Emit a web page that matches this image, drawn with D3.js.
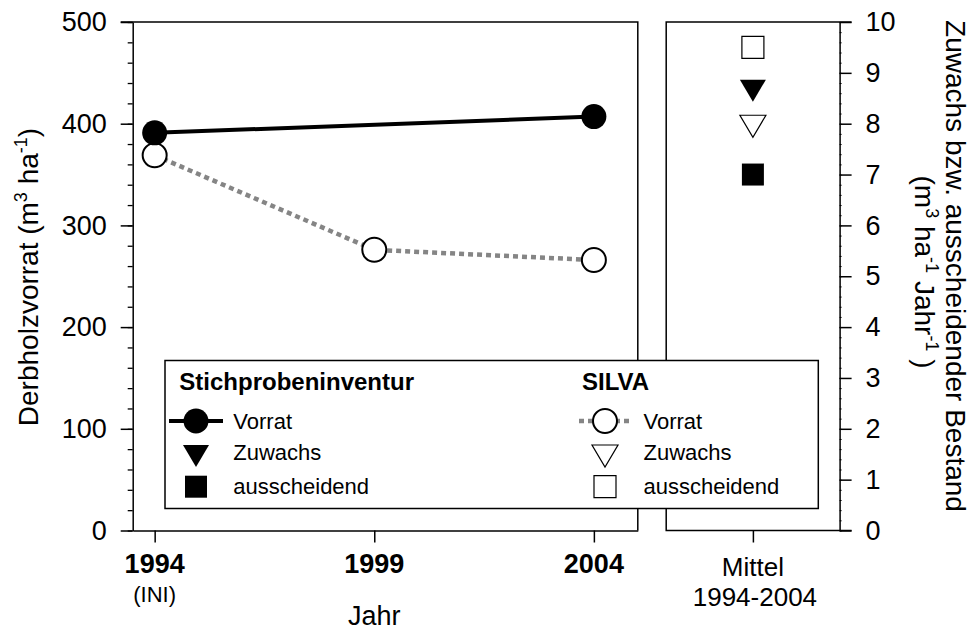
<!DOCTYPE html>
<html>
<head>
<meta charset="utf-8">
<script src="https://cdn.jsdelivr.net/npm/d3@7/dist/d3.min.js"></script>
<style>
  html, body { margin: 0; padding: 0; background: #fff; }
  svg { display: block; font-family: "Liberation Sans", Arial, Helvetica, sans-serif; }
</style>
</head>
<body>
<svg id="chart" width="972" height="632"></svg>
<script>
// Stock (Vorrat) time series, m³/ha
const stichYears = [1994, 2004];
const stichVorrat = [391, 407];
const silvaYears = [1994, 1999, 2004];
const silvaVorrat = [369, 276, 266];

// Mean annual increment and removal 1994-2004, m³/ha/year
const meanCategory = ["Mittel"];
const stichZuwachs = [8.65];
const stichAusscheidend = [7.0];
const silvaZuwachs = [7.95];
const silvaAusscheidend = [9.5];

// Axis ticks and labels
const yearTicks = [1994, 1999, 2004];
const yearSubLabels = ["(INI)", "", ""];
const leftTicks = [0, 100, 200, 300, 400, 500];
const rightTicks = [0, 1, 2, 3, 4, 5, 6, 7, 8, 9, 10];

const svg = d3.select("#chart");
const FONT = 27;

const L = { x0: 132.7, x1: 637.8 };
const R = { x0: 666.2, x1: 839.6 };
const plotTop = 22, plotBottom = 530.5;

const x = d3.scaleLinear().domain([1993.5, 2005]).range([L.x0, L.x1]);
const y = d3.scaleLinear().domain([0, 500]).range([plotBottom, plotTop]);
const y2 = d3.scaleLinear().domain([0, 10]).range([plotBottom, plotTop]);
const xm = d3.scalePoint().domain(meanCategory).range([R.x0, R.x1]).padding(0.5);

const ink = "#000";

function styleAxis(g) {
  g.select(".domain").attr("stroke", ink).attr("stroke-width", 1.5);
  g.selectAll(".tick line").attr("stroke", ink).attr("stroke-width", 1.5);
  g.selectAll(".tick text").attr("fill", ink).attr("font-size", FONT).attr("font-family", null);
}

// ---- Left panel ----
// minor ticks
svg.append("g").attr("transform", `translate(${L.x0},0)`)
  .call(d3.axisLeft(y).tickValues(d3.range(0, 501, 20)).tickSize(5).tickFormat(""))
  .call(g => { g.select(".domain").remove(); g.selectAll(".tick line").attr("stroke", ink).attr("stroke-width", 1.3); });
svg.append("g").attr("transform", `translate(${L.x0},0)`)
  .call(d3.axisLeft(y).tickValues(leftTicks).tickSize(12).tickPadding(14).tickSizeOuter(0))
  .call(styleAxis);

svg.append("g").attr("transform", `translate(0,${plotBottom})`)
  .call(d3.axisBottom(x).tickValues(yearTicks).tickSize(12).tickSizeOuter(0).tickFormat(""))
  .call(styleAxis);

// top and right frame of left panel
svg.append("path")
  .attr("d", d3.line()([[L.x0 - 12, plotTop], [L.x1, plotTop], [L.x1, plotBottom]]))
  .attr("fill", "none").attr("stroke", ink).attr("stroke-width", 1.5);

// year labels
svg.append("g").selectAll("text").data(yearTicks).join("text")
  .attr("x", d => x(d)).attr("y", 573)
  .attr("text-anchor", "middle").attr("font-size", 27).attr("font-weight", "bold")
  .text(d => d);
svg.append("g").selectAll("text").data(yearTicks).join("text")
  .attr("x", d => x(d)).attr("y", 601.5)
  .attr("text-anchor", "middle").attr("font-size", 22)
  .text((d, i) => yearSubLabels[i]);

svg.append("text").attr("x", x(1999)).attr("y", 625)
  .attr("text-anchor", "middle").attr("font-size", FONT).text("Jahr");

// left axis title
const lt = svg.append("text")
  .attr("transform", `translate(38,277) rotate(-90)`)
  .attr("text-anchor", "middle").attr("font-size", 28);
lt.append("tspan").text("Derbholzvorrat (m");
lt.append("tspan").attr("font-size", 18).attr("dy", -11).text("3");
lt.append("tspan").attr("dy", 11).text(" ha");
lt.append("tspan").attr("font-size", 18).attr("dy", -11).text("-1");
lt.append("tspan").attr("dy", 11).text(")");

// ---- Right panel ----
svg.append("g").attr("transform", `translate(${R.x1},0)`)
  .call(d3.axisRight(y2).tickValues(d3.range(0, 10.01, 0.2)).tickSize(2).tickFormat(""))
  .call(g => { g.select(".domain").remove(); g.selectAll(".tick line").attr("stroke", ink).attr("stroke-width", 1); });
svg.append("g").attr("transform", `translate(${R.x1},0)`)
  .call(d3.axisRight(y2).tickValues(rightTicks).tickSize(12).tickPadding(14).tickSizeOuter(0))
  .call(styleAxis);

svg.append("g").attr("transform", `translate(0,${plotBottom})`)
  .call(d3.axisBottom(xm).tickSize(12).tickSizeOuter(0).tickFormat(""))
  .call(g => g.select(".domain").remove())
  .call(styleAxis);

svg.append("path")
  .attr("d", d3.line()([[R.x1 + 12, plotTop], [R.x0, plotTop], [R.x0, plotBottom], [R.x1 + 12, plotBottom]]))
  .attr("fill", "none").attr("stroke", ink).attr("stroke-width", 1.5);

svg.append("text").attr("x", xm("Mittel")).attr("y", 576)
  .attr("text-anchor", "middle").attr("font-size", 26).text("Mittel");
svg.append("text").attr("x", xm("Mittel") + 2).attr("y", 606)
  .attr("text-anchor", "middle").attr("font-size", 26).text("1994-2004");

// right axis title (two lines)
svg.append("text")
  .attr("transform", `translate(946,266) rotate(90)`)
  .attr("text-anchor", "middle").attr("font-size", 28)
  .text("Zuwachs bzw. ausscheidender Bestand");
const rt = svg.append("text")
  .attr("transform", `translate(915,272) rotate(90)`)
  .attr("text-anchor", "middle").attr("font-size", 28);
rt.append("tspan").text("(m");
rt.append("tspan").attr("font-size", 18).attr("dy", -11).text("3");
rt.append("tspan").attr("dy", 11).text(" ha");
rt.append("tspan").attr("font-size", 18).attr("dy", -11).text("-1");
rt.append("tspan").attr("dy", 11).text(" Jahr");
rt.append("tspan").attr("font-size", 18).attr("dy", -11).text("-1");
rt.append("tspan").attr("dy", 11).text(" )");

// ---- Marks ----
const triW = 26, triH = 22, sq = 22;
const triDown = `M${-triW / 2},${-triH / 2}L${triW / 2},${-triH / 2}L0,${triH / 2}Z`;
const square = `M${-sq / 2},${-sq / 2}h${sq}v${sq}h${-sq}Z`;

const silvaPts = silvaYears.map((d, i) => [d, silvaVorrat[i]]);
const stichPts = stichYears.map((d, i) => [d, stichVorrat[i]]);
const line = d3.line().x(d => x(d[0])).y(d => y(d[1]));

svg.append("path").datum(silvaPts).attr("d", line)
  .attr("fill", "none").attr("stroke", "#858585").attr("stroke-width", 4.5)
  .attr("stroke-dasharray", "5,4");
svg.append("path").datum(stichPts).attr("d", line)
  .attr("fill", "none").attr("stroke", ink).attr("stroke-width", 4);

svg.append("g").selectAll("circle").data(silvaPts).join("circle")
  .attr("cx", d => x(d[0])).attr("cy", d => y(d[1])).attr("r", 12)
  .attr("fill", "#fff").attr("stroke", ink).attr("stroke-width", 2);
svg.append("g").selectAll("circle").data(stichPts).join("circle")
  .attr("cx", d => x(d[0])).attr("cy", d => y(d[1])).attr("r", 12.5)
  .attr("fill", ink);

const cx = xm("Mittel");
const meanMarks = [
  { v: silvaAusscheidend[0], shape: square, fill: "#fff" },
  { v: stichZuwachs[0], shape: triDown, fill: ink },
  { v: silvaZuwachs[0], shape: triDown, fill: "#fff" },
  { v: stichAusscheidend[0], shape: square, fill: ink }
];
svg.append("g").selectAll("path").data(meanMarks).join("path")
  .attr("transform", d => `translate(${cx},${y2(d.v)})`)
  .attr("d", d => d.shape)
  .attr("fill", d => d.fill).attr("stroke", ink).attr("stroke-width", d => d.fill === ink ? 0 : 1.2);

// ---- Legend ----
const lg = svg.append("g");
lg.append("rect").attr("x", 165).attr("y", 360.5).attr("width", 653.3).attr("height", 148)
  .attr("fill", "#fff").attr("stroke", ink).attr("stroke-width", 1.5);

const groups = [
  { title: "Stichprobeninventur", tx: 179.3, sx: 196, lx: 233.3, solid: true },
  { title: "SILVA", tx: 582, sx: 605, lx: 643.5, solid: false }
];
const rowY = { vorrat: 421, zuwachs: 456, aus: 486.7 };
const labelY = [429, 459.5, 493.5];
const labels = ["Vorrat", "Zuwachs", "ausscheidend"];

groups.forEach(gp => {
  lg.append("text").attr("x", gp.tx).attr("y", 390)
    .attr("font-size", 24).attr("font-weight", "bold").text(gp.title);
  lg.append("g").selectAll("text").data(labels).join("text")
    .attr("x", gp.lx).attr("y", (d, i) => labelY[i]).attr("font-size", 22).text(d => d);
  if (gp.solid) {
    lg.append("line").attr("x1", gp.sx - 27).attr("x2", gp.sx + 27)
      .attr("y1", rowY.vorrat).attr("y2", rowY.vorrat)
      .attr("stroke", ink).attr("stroke-width", 4);
    lg.append("circle").attr("cx", gp.sx).attr("cy", rowY.vorrat).attr("r", 12.5).attr("fill", ink);
  } else {
    lg.append("line").attr("x1", gp.sx - 26).attr("x2", gp.sx + 25)
      .attr("y1", rowY.vorrat).attr("y2", rowY.vorrat)
      .attr("stroke", "#858585").attr("stroke-width", 4.5).attr("stroke-dasharray", "5,4");
    lg.append("circle").attr("cx", gp.sx).attr("cy", rowY.vorrat).attr("r", 12)
      .attr("fill", "#fff").attr("stroke", ink).attr("stroke-width", 2);
  }
  const fill = gp.solid ? ink : "#fff";
  const sw = gp.solid ? 0 : 1.2;
  lg.append("path").attr("transform", `translate(${gp.sx},${rowY.zuwachs})`).attr("d", triDown)
    .attr("fill", fill).attr("stroke", ink).attr("stroke-width", sw);
  lg.append("path").attr("transform", `translate(${gp.sx},${rowY.aus})`).attr("d", square)
    .attr("fill", fill).attr("stroke", ink).attr("stroke-width", sw);
});
</script>
</body>
</html>
